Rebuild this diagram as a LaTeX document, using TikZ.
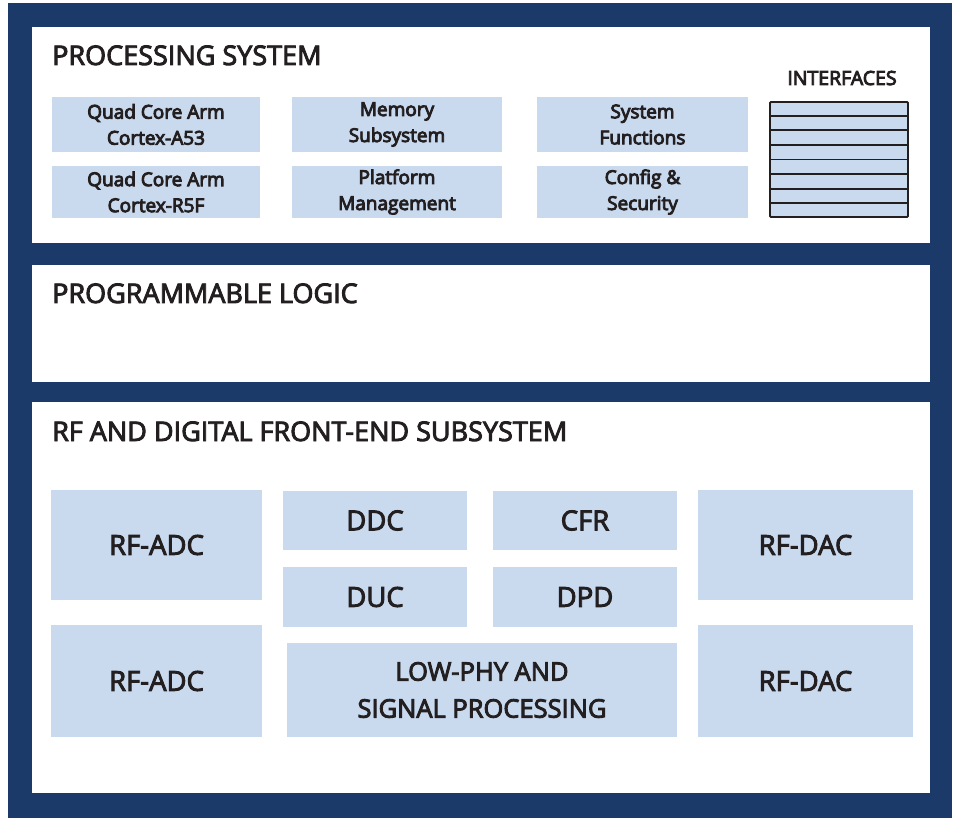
\documentclass[tikz,border=0pt]{standalone}
\usepackage{fontspec}
\setmainfont{Open Sans}
\usetikzlibrary{calc}
\definecolor{navy}{HTML}{1C3A69}
\definecolor{cell}{HTML}{C9D9EE}
\definecolor{ink}{HTML}{231F20}
% slightly heavier lettering: glyphs are filled and stroked with a thin ink outline
\newcommand\hv[1]{\special{pdf:literal direct 2 Tr 0.9 w}#1\special{pdf:literal direct 0 Tr}}
\begin{document}
\begin{tikzpicture}[x=1pt,y=-1pt,
  title/.style={anchor=base west,inner sep=0,text=ink,font=\fontsize{27}{30}\selectfont},
  blk/.style={fill=cell,inner sep=0,align=center,text=ink},
  small/.style={blk,font=\fontsize{19}{26}\selectfont},
  big/.style={blk,font=\fontsize{27.5}{37}\selectfont},
  mid/.style={blk,font=\fontsize{25.5}{37}\selectfont}]
\useasboundingbox (0,0) rectangle (959,818);
% frame and the three layers
\fill[navy] (8,3) rectangle (952,818);
\fill[white] (32,27) rectangle (930,243);
\fill[white] (32,265) rectangle (930,382);
\fill[white] (32,402) rectangle (930,793);

% processing system
\node[title] (ps) at (52,65) {\hv{PROCESSING SYSTEM}};
\node[small,minimum width=208,minimum height=55] (a53) at (156,124.5) {\hv{Quad Core Arm}\\\hv{Cortex-A53}};
\node[small,minimum width=208,minimum height=52] (r5f) at (156,192) {\hv{Quad Core Arm}\\\hv{Cortex-R5F}};
\node[small,minimum width=210,minimum height=55] (mem) at (397,124.5) {\hv{Memory}\\\hv{Subsystem}};
\node[small,minimum width=210,minimum height=52] (pmu) at (397,192) {\hv{Platform}\\\hv{Management}};
\node[small,minimum width=211,minimum height=55] (sys) at (642.5,124.5) {\hv{System}\\\hv{Functions}};
\node[small,minimum width=211,minimum height=52] (sec) at (642.5,192) {\hv{Config \&}\\\hv{Security}};
\node[anchor=base,inner sep=0,text=ink,font=\fontsize{19.5}{22}\selectfont] (iflab) at (842,85) {\hv{INTERFACES}};
\node[draw=ink,fill=cell,line width=1.8,rounded corners=1,minimum width=138,minimum height=115,inner sep=0] (intf) at (839,159.5) {};
\foreach \k in {1,...,7}
  \draw[ink,line width=1.8] ($(intf.north west)!\k/8!(intf.south west)$) -- ($(intf.north east)!\k/8!(intf.south east)$);

% programmable logic
\node[title] (pl) at (52,303) {\hv{PROGRAMMABLE LOGIC}};

% RF and digital front-end
\node[title] (rf) at (52,441) {\hv{RF AND DIGITAL FRONT-END SUBSYSTEM}};
\node[big,minimum width=211,minimum height=110] (adc1) at (156.5,545) {\hv{RF-ADC}};
\node[big,minimum width=211,minimum height=112] (adc2) at (156.5,681) {\hv{RF-ADC}};
\node[big,minimum width=184,minimum height=59] (ddc) at (375,520.5) {\hv{DDC}};
\node[big,minimum width=184,minimum height=60] (duc) at (375,597) {\hv{DUC}};
\node[big,minimum width=184,minimum height=59] (cfr) at (585,520.5) {\hv{CFR}};
\node[big,minimum width=184,minimum height=60] (dpd) at (585,597) {\hv{DPD}};
\node[mid,minimum width=390,minimum height=94] (phy) at (482,690) {\hv{LOW-PHY AND}\\\hv{SIGNAL PROCESSING}};
\node[big,minimum width=215,minimum height=110] (dac1) at (805.5,545) {\hv{RF-DAC}};
\node[big,minimum width=215,minimum height=112] (dac2) at (805.5,681) {\hv{RF-DAC}};
\end{tikzpicture}
\end{document}
